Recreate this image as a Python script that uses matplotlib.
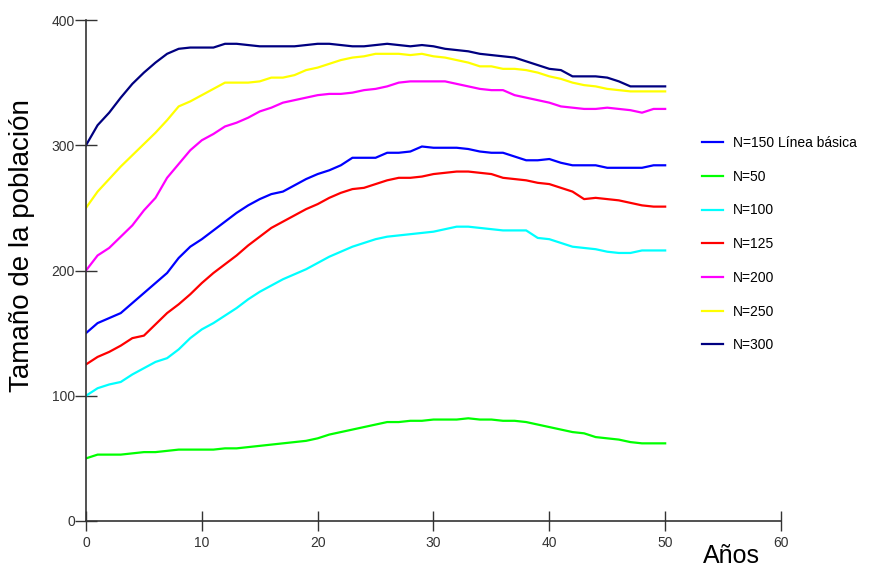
import numpy as np
import matplotlib
matplotlib.use('Agg')
import matplotlib.pyplot as plt

plt.rcParams['font.family'] = ['Liberation Sans', 'DejaVu Sans']

years = np.arange(0, 51)

n150 = [150, 158, 162, 166, 174, 182, 190, 198, 210, 219, 225, 232, 239, 246, 252,
        257, 261, 263, 268, 273, 277, 280, 284, 290, 290, 290, 294, 294, 295, 299,
        298, 298, 298, 297, 295, 294, 294, 291, 288, 288, 289, 286, 284, 284, 284,
        282, 282, 282, 282, 284, 284]
n50 = [50, 53, 53, 53, 54, 55, 55, 56, 57, 57, 57, 57, 58, 58, 59, 60, 61, 62, 63,
       64, 66, 69, 71, 73, 75, 77, 79, 79, 80, 80, 81, 81, 81, 82, 81, 81, 80, 80,
       79, 77, 75, 73, 71, 70, 67, 66, 65, 63, 62, 62, 62]
n100 = [100, 106, 109, 111, 117, 122, 127, 130, 137, 146, 153, 158, 164, 170, 177,
        183, 188, 193, 197, 201, 206, 211, 215, 219, 222, 225, 227, 228, 229, 230,
        231, 233, 235, 235, 234, 233, 232, 232, 232, 226, 225, 222, 219, 218, 217,
        215, 214, 214, 216, 216, 216]
n125 = [125, 131, 135, 140, 146, 148, 157, 166, 173, 181, 190, 198, 205, 212, 220,
        227, 234, 239, 244, 249, 253, 258, 262, 265, 266, 269, 272, 274, 274, 275,
        277, 278, 279, 279, 278, 277, 274, 273, 272, 270, 269, 266, 263, 257, 258,
        257, 256, 254, 252, 251, 251]
n200 = [200, 212, 218, 227, 236, 248, 258, 274, 285, 296, 304, 309, 315, 318, 322,
        327, 330, 334, 336, 338, 340, 341, 341, 342, 344, 345, 347, 350, 351, 351,
        351, 351, 349, 347, 345, 344, 344, 340, 338, 336, 334, 331, 330, 329, 329,
        330, 329, 328, 326, 329, 329]
n250 = [250, 263, 273, 283, 292, 301, 310, 320, 331, 335, 340, 345, 350, 350, 350,
        351, 354, 354, 356, 360, 362, 365, 368, 370, 371, 373, 373, 373, 372, 373,
        371, 370, 368, 366, 363, 363, 361, 361, 360, 358, 355, 353, 350, 348, 347,
        345, 344, 343, 343, 343, 343]
n300 = [300, 316, 326, 338, 349, 358, 366, 373, 377, 378, 378, 378, 381, 381, 380,
        379, 379, 379, 379, 380, 381, 381, 380, 379, 379, 380, 381, 380, 379, 380,
        379, 377, 376, 375, 373, 372, 371, 370, 367, 364, 361, 360, 355, 355, 355,
        354, 351, 347, 347, 347, 347]

series = [n150, n50, n100, n125, n200, n250, n300]
labels = ['N=150 Línea básica', 'N=50', 'N=100', 'N=125', 'N=200', 'N=250', 'N=300']
colors = ['#0000ff', '#00ff00', '#00ffff', '#ff0000', '#ff00ff', '#ffff00', '#000080']

fig = plt.figure(figsize=(8.83, 5.67), dpi=100)
ax = fig.add_axes([86/883, 46/567, 695/883, 501/567])

for vals, lab, c in zip(series, labels, colors):
    ax.plot(years, vals, color=c, lw=1.6, label=lab)

ax.set_xlim(0, 60)
ax.set_ylim(0, 400)
ax.set_xticks(range(0, 61, 10))
ax.set_yticks(range(0, 401, 100))
for s in ['top', 'right']:
    ax.spines[s].set_visible(False)
for s in ['left', 'bottom']:
    ax.spines[s].set_color('#333333')
    ax.spines[s].set_linewidth(1.2)
ax.tick_params(axis='x', direction='inout', length=15, width=1, color='#333333',
               labelsize=10, labelcolor='#333333', pad=3)
ax.tick_params(axis='y', direction='inout', length=16, width=1, color='#333333',
               labelsize=10, labelcolor='#333333', pad=0)

fig.text(22/883, 1 - 246/567, 'Tamaño de la población', rotation=90,
         fontsize=20, ha='center', va='center')
fig.text(731/883, 1 - 563/567, 'Años', fontsize=18, ha='center', va='baseline')

ax.legend(loc='upper left', bbox_to_anchor=(702/883, 1 - 136/567),
          bbox_transform=fig.transFigure, frameon=False, fontsize=10,
          handlelength=1.5, handletextpad=0.7, labelspacing=1.42,
          borderpad=0, borderaxespad=0)

fig.savefig('out.png', dpi=100)
